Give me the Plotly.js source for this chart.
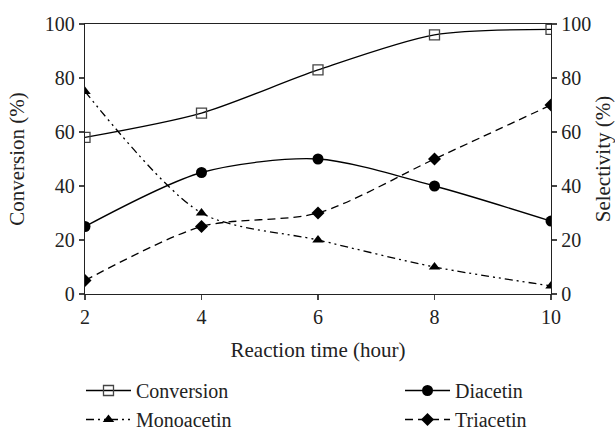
<!DOCTYPE html>
<html>
<head>
<meta charset="utf-8">
<script src="https://cdn.plot.ly/plotly-3.0.1.min.js"></script>
<style>html,body{margin:0;padding:0;background:#fff;}</style>
</head>
<body>
<div id="chart" style="width:615px;height:430px;"></div>
<script>
const time = [2, 4, 6, 8, 10];
const conversion = [58, 67, 83, 96, 98];
const monoacetin = [75, 30, 20, 10, 3];
const diacetin = [25, 45, 50, 40, 27];
const triacetin = [5, 25, 30, 50, 70];

const FONT = "Liberation Serif";
const traces = [
  {x: time, y: conversion, name: 'Conversion', mode: 'lines+markers', yaxis: 'y',
   line: {color: '#000', width: 1.3, shape: 'spline', smoothing: 0.8},
   marker: {symbol: 'square-open', size: 10, color: '#444', line: {width: 1.3, color: '#444'}},
   legend: 'legend'},
  {x: time, y: monoacetin, name: 'Monoacetin', mode: 'lines+markers', yaxis: 'y2',
   line: {color: '#000', width: 1.3, shape: 'spline', smoothing: 0.8, dash: '8px,4px,2px,4px,2px,4px'},
   marker: {symbol: 'triangle-up', size: 10, color: '#000'},
   legend: 'legend'},
  {x: time, y: diacetin, name: 'Diacetin', mode: 'lines+markers', yaxis: 'y2',
   line: {color: '#000', width: 1.3, shape: 'spline', smoothing: 0.8},
   marker: {symbol: 'circle', size: 11, color: '#000'},
   legend: 'legend2'},
  {x: time, y: triacetin, name: 'Triacetin', mode: 'lines+markers', yaxis: 'y2',
   line: {color: '#000', width: 1.3, shape: 'spline', smoothing: 0.8, dash: '8px,5px'},
   marker: {symbol: 'diamond', size: 10, color: '#000'},
   legend: 'legend2'}
];

const layout = {
  width: 615, height: 430,
  margin: {l: 85, r: 64, t: 24, b: 136},
  paper_bgcolor: '#fff', plot_bgcolor: '#fff',
  font: {family: FONT, size: 21, color: '#222'},
  showlegend: true,
  xaxis: {
    range: [2, 10], tickvals: [2, 4, 6, 8, 10], ticks: 'outside', ticklen: 5, tickwidth: 1.3,
    showline: true, linecolor: '#222', linewidth: 1.3, mirror: true, showgrid: false, zeroline: false,
    tickfont: {size: 20, family: FONT},
    title: {text: 'Reaction time (hour)', font: {size: 21, family: FONT}, standoff: 15}
  },
  yaxis: {
    range: [0, 100], tickvals: [0, 20, 40, 60, 80, 100], ticks: 'outside', ticklen: 5, tickwidth: 1.3,
    showline: true, linecolor: '#222', linewidth: 1.3, showgrid: false, zeroline: false,
    tickfont: {size: 20, family: FONT},
    title: {text: 'Conversion (%)', font: {size: 21, family: FONT}, standoff: 14}
  },
  yaxis2: {
    range: [0, 100], tickvals: [0, 20, 40, 60, 80, 100], ticks: 'outside', ticklen: 5, tickwidth: 1.3,
    overlaying: 'y', side: 'right',
    showline: true, linecolor: '#222', linewidth: 1.3, showgrid: false, zeroline: false,
    tickfont: {size: 20, family: FONT},
    title: {text: 'Selectivity (%)', font: {size: 21, family: FONT}, standoff: 5}
  },
  legend: {
    x: -0.0086, y: 0.1372, xref: 'paper', yref: 'container', xanchor: 'left', yanchor: 'top',
    orientation: 'v', font: {size: 20, family: FONT}, tracegroupgap: 0,
    bgcolor: 'rgba(0,0,0,0)', itemwidth: 45
  },
  legend2: {
    x: 0.676, y: 0.1372, xref: 'paper', yref: 'container', xanchor: 'left', yanchor: 'top',
    orientation: 'v', font: {size: 20, family: FONT}, tracegroupgap: 0,
    bgcolor: 'rgba(0,0,0,0)', itemwidth: 45
  }
};

Plotly.newPlot('chart', traces, layout, {displayModeBar: false, staticPlot: true});
</script>
</body>
</html>
